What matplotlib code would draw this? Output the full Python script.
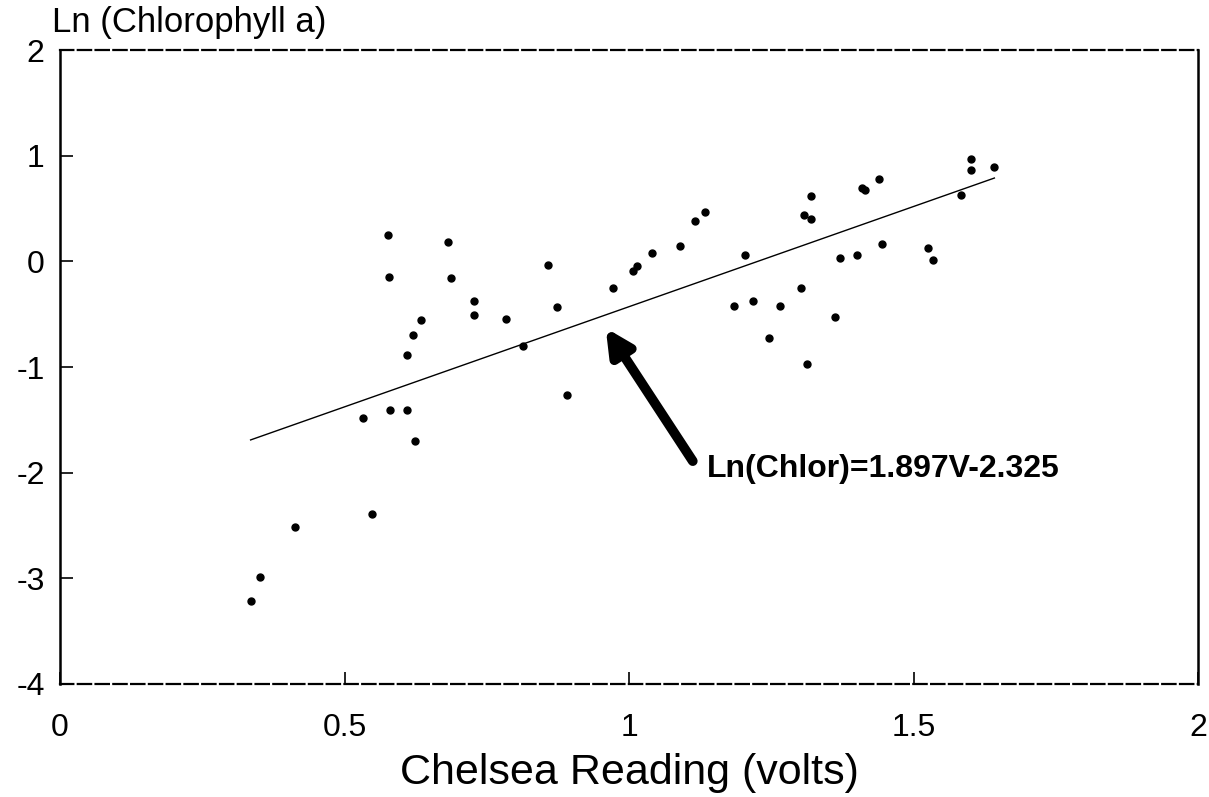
import numpy as np
import matplotlib.pyplot as plt

plt.rcParams["axes.unicode_minus"] = False

# Chelsea reading (volts) vs Ln(chlorophyll a)
volts = [0.335, 0.351, 0.413, 0.532, 0.548, 0.577, 0.578, 0.580, 0.610, 0.610,
         0.621, 0.624, 0.635, 0.681, 0.688, 0.728, 0.728, 0.784, 0.813, 0.858,
         0.874, 0.891, 0.971, 1.007, 1.014, 1.041, 1.089, 1.116, 1.133, 1.184,
         1.203, 1.217, 1.246, 1.265, 1.302, 1.307, 1.313, 1.320, 1.320, 1.362,
         1.371, 1.400, 1.410, 1.415, 1.440, 1.445, 1.526, 1.534, 1.583, 1.601,
         1.601, 1.642]
ln_chl = [-3.21, -2.99, -2.51, -1.48, -2.39, 0.25, -0.15, -1.41, -0.89, -1.41,
          -0.70, -1.70, -0.55, 0.18, -0.16, -0.37, -0.51, -0.54, -0.80, -0.03,
          -0.43, -1.26, -0.25, -0.09, -0.04, 0.08, 0.15, 0.38, 0.47, -0.42,
          0.06, -0.37, -0.72, -0.42, -0.25, 0.44, -0.97, 0.62, 0.40, -0.53,
          0.03, 0.06, 0.70, 0.68, 0.78, 0.17, 0.13, 0.01, 0.63, 0.97,
          0.87, 0.89]

slope, intercept = 1.897, -2.325
fit_label = "Ln(Chlor)=1.897V-2.325"

fig = plt.figure(figsize=(12.09, 7.97), dpi=100)
ax = fig.add_axes([0.0496, 0.1418, 0.9414, 0.7952])

ax.plot(volts, ln_chl, "o", color="black", ms=5, zorder=3)

xf = np.array([min(volts), max(volts)])
ax.plot(xf, slope * xf + intercept, color="black", lw=1.0)

ax.annotate("", xy=(0.959, -0.63), xytext=(1.112, -1.89),
            arrowprops=dict(arrowstyle="-|>,head_length=1.5,head_width=0.75",
                            color="black", lw=7, shrinkA=0, shrinkB=0))
ax.text(1.137, -1.96, fit_label, fontsize=23, fontweight="bold",
        family="Liberation Sans", ha="left", va="center")

ax.set_xlim(0, 2)
ax.set_ylim(-4, 2)
ax.set_xticks([0, 0.5, 1, 1.5, 2])
ax.set_xticklabels(["0", "0.5", "1", "1.5", "2"])
ax.set_yticks([-4, -3, -2, -1, 0, 1, 2])
ax.tick_params(direction="in", length=9, width=1.2, labelsize=23)
ax.tick_params(axis="x", pad=21)
ax.tick_params(axis="y", pad=11)
for lab in ax.get_xticklabels() + ax.get_yticklabels():
    lab.set_family("Liberation Sans")

for side in ["left", "right"]:
    ax.spines[side].set_linewidth(1.8)
for side in ["top", "bottom"]:
    ax.spines[side].set_linewidth(1.6)
    ax.spines[side].set_linestyle((0, (6, 2)))

ax.set_xlabel("Chelsea Reading (volts)", fontsize=31, family="Liberation Sans",
              va="center")
ax.xaxis.set_label_coords(0.5, -0.14)
fig.text(0.043, 0.96, "Ln (Chlorophyll a)", fontsize=25, family="Liberation Sans",
         ha="left", va="baseline")

fig.savefig("out.png", dpi=100)
